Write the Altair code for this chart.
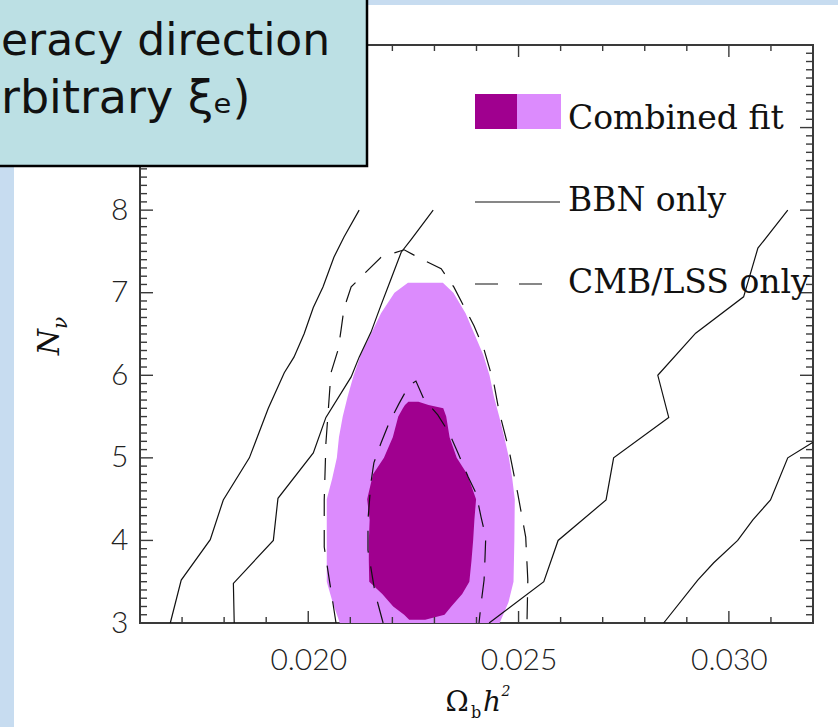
import altair as alt
import pandas as pd

W, H = 673, 578

# ---------------- data ----------------
# Combined fit, 95% region (light): N levels with left / right Omega_b h^2 bounds
light_n = [3.0, 3.25, 3.5, 4.0, 4.5, 4.75, 5.0, 5.25, 5.5, 5.75, 6.0, 6.25, 6.5, 6.75, 7.0, 7.12]
light_left = [0.02075, 0.02058, 0.02044, 0.02044, 0.02044, 0.02057, 0.02068, 0.02073,
              0.02082, 0.02094, 0.02108, 0.02125, 0.02149, 0.02173, 0.02205, 0.02237]
light_right = [0.02455, 0.02476, 0.02488, 0.02490, 0.02491, 0.02485, 0.02477, 0.02466,
               0.02454, 0.02441, 0.02431, 0.02416, 0.02395, 0.02374, 0.02345, 0.02320]

# Combined fit, 68% region (dark)
dark_n = [3.04, 3.1, 3.2, 3.35, 3.5, 3.75, 4.0, 4.25, 4.5, 4.8, 5.0, 5.25, 5.5, 5.6, 5.64, 5.68]
dark_left = [0.02240, 0.02228, 0.02202, 0.02176, 0.02145, 0.02144, 0.02144, 0.02146,
             0.02140, 0.02154, 0.02180, 0.02201, 0.02214, 0.02225, 0.02230, 0.02238]
dark_right = [0.02278, 0.02324, 0.02340, 0.02366, 0.02383, 0.02388, 0.02392, 0.02395,
              0.02399, 0.02378, 0.02353, 0.02336, 0.02328, 0.02321, 0.02286, 0.02262]

# BBN only contours (solid)
bbn95_left_x = [0.01672, 0.01698, 0.01767, 0.01798, 0.01860, 0.01905, 0.01943, 0.01966,
                0.01990, 0.02012, 0.02035, 0.02061, 0.02085, 0.02121]
bbn95_left_y = [3.0, 3.52, 4.01, 4.49, 5.0, 5.60, 6.03, 6.22, 6.50, 6.82, 7.07, 7.43, 7.675, 8.0]

bbn68_left_x = [0.01824, 0.01822, 0.01917, 0.01928, 0.02012, 0.02042, 0.02102, 0.02121,
                0.02149, 0.02173, 0.02197, 0.02221, 0.02244, 0.02297]
bbn68_left_y = [3.0, 3.48, 4.0, 4.51, 5.06, 5.49, 5.98, 6.22, 6.52, 6.85, 7.17, 7.49, 7.64, 8.0]

bbn68_right_x = [0.02430, 0.02560, 0.02594, 0.02708, 0.02726, 0.02857, 0.02831, 0.02921,
                 0.03035, 0.03069, 0.03140]
bbn68_right_y = [3.0, 3.50, 4.0, 4.49, 5.0, 5.49, 6.0, 6.51, 6.95, 7.54, 8.0]

bbn95_right_x = [0.02845, 0.02926, 0.02964, 0.03021, 0.03057, 0.03099, 0.03140, 0.03200]
bbn95_right_y = [3.0, 3.52, 3.73, 4.0, 4.25, 4.49, 5.0, 5.19]

# CMB/LSS only contours (dashed)
cmb95_x = [0.02066, 0.02038, 0.02038, 0.02042, 0.02054, 0.02071, 0.02078, 0.02085, 0.02102,
           0.02137, 0.02173, 0.02228, 0.02268, 0.02316, 0.02346, 0.02394, 0.02418, 0.02441,
           0.02453, 0.02477, 0.02498, 0.02517, 0.02522, 0.02520]
cmb95_y = [3.0, 3.92, 4.49, 5.18, 6.03, 6.31, 6.55, 6.81, 7.07, 7.25, 7.43, 7.52, 7.41, 7.29,
           7.07, 6.60, 6.31, 5.91, 5.58, 5.10, 4.57, 4.04, 3.52, 3.0]

cmb68_x = [0.02178, 0.02159, 0.02142, 0.02142, 0.02149, 0.02156, 0.02173, 0.02192, 0.02216,
           0.02240, 0.02256, 0.02275, 0.02308, 0.02335, 0.02356, 0.02380, 0.02399, 0.02411,
           0.02422, 0.02420, 0.02418, 0.02411, 0.02406]
cmb68_y = [3.0, 3.36, 3.88, 4.25, 4.70, 4.94, 5.18, 5.42, 5.66, 5.88, 5.93, 5.71, 5.52, 5.30,
           5.06, 4.77, 4.57, 4.28, 4.04, 3.76, 3.52, 3.24, 3.0]

# axis ticks / labels
x_label_values = [0.020, 0.025, 0.030]
y_label_values = [3, 4, 5, 6, 7, 8]
x_major_ticks = [0.020, 0.025, 0.030]
x_minor_ticks = [0.017, 0.018, 0.019, 0.021, 0.022, 0.023, 0.024,
                 0.026, 0.027, 0.028, 0.029, 0.031]
y_major_ticks = [4, 5, 6, 7, 8, 9]
y_minor_ticks = [round(3 + 0.1 * i, 1) for i in range(1, 70) if i % 10]

# ---------------- helpers ----------------
XS = alt.Scale(domain=[0.016, 0.032], nice=False, zero=False)
YS = alt.Scale(domain=[3, 10], nice=False, zero=False)
TICKFONT = "Lato"
XAX = alt.Axis(values=x_label_values, format=".3f", ticks=False, domain=False, grid=False,
               labelFont=TICKFONT, labelFontSize=30, labelFontWeight=300, labelColor="#222222",
               labelPadding=22, labelFlush=False, title=None)
YAX = alt.Axis(values=y_label_values, format="d", ticks=False, domain=False, grid=False,
               labelFont=TICKFONT, labelFontSize=30, labelFontWeight=300, labelColor="#222222",
               labelPadding=12, labelFlush=False, title=None)


def X(field, **kw):
    return alt.X(field, type="quantitative", scale=XS, axis=XAX, **kw)


def Y(field, **kw):
    return alt.Y(field, type="quantitative", scale=YS, axis=YAX, **kw)


one = pd.DataFrame({"k": [0]})

light_df = pd.DataFrame({"n": light_n, "xl": light_left, "xr": light_right})
dark_df = pd.DataFrame({"n": dark_n, "xl": dark_left, "xr": dark_right})


def line_df(xs, ys, name):
    return pd.DataFrame({"x": xs, "y": ys, "id": name, "i": range(len(xs))})


solid_df = pd.concat([
    line_df(bbn95_left_x, bbn95_left_y, "a"),
    line_df(bbn68_left_x, bbn68_left_y, "b"),
    line_df(bbn68_right_x, bbn68_right_y, "c"),
    line_df(bbn95_right_x, bbn95_right_y, "d"),
])
dashed_df = pd.concat([
    line_df(cmb95_x, cmb95_y, "e"),
    line_df(cmb68_x, cmb68_y, "f"),
])

DARK = "#A0008F"
LIGHT = "#DC8BFD"

layers = []

# slide background strips
bg = "#C7DCF0"
layers.append(alt.Chart(one).mark_rect(color=bg).encode(
    x=alt.value(-140), x2=alt.value(-126), y=alt.value(-45), y2=alt.value(H + 104)))
layers.append(alt.Chart(one).mark_rect(color=bg).encode(
    x=alt.value(-140), x2=alt.value(W + 25), y=alt.value(-45), y2=alt.value(-40)))

# filled regions (horizontal areas: left/right bound at each N)
layers.append(alt.Chart(light_df).mark_area(orient="horizontal", color=LIGHT, opacity=1).encode(
    y=Y("n"), x=X("xl", stack=None), x2=alt.X2("xr")))
layers.append(alt.Chart(dark_df).mark_area(orient="horizontal", color=DARK, opacity=1).encode(
    y=Y("n"), x=X("xl", stack=None), x2=alt.X2("xr")))

# contours
layers.append(alt.Chart(solid_df).mark_line(color="#111111", strokeWidth=1.2).encode(
    x=X("x"), y=Y("y"), detail="id:N", order=alt.Order("i:Q")))
layers.append(alt.Chart(dashed_df).mark_line(color="#111111", strokeWidth=1.2,
                                             strokeDash=[22, 14]).encode(
    x=X("x"), y=Y("y"), detail="id:N", order=alt.Order("i:Q")))

# inward ticks on all four sides
TC = "#3a3a3a"
xmaj = pd.DataFrame({"v": x_major_ticks})
xmin = pd.DataFrame({"v": x_minor_ticks})
ymaj = pd.DataFrame({"v": y_major_ticks})
ymin = pd.DataFrame({"v": y_minor_ticks})
for df, ln in ((xmaj, 12), (xmin, 6)):
    layers.append(alt.Chart(df).mark_rule(color=TC, strokeWidth=1.4).encode(
        x=X("v"), y=alt.value(H), y2=alt.value(H - ln)))
    layers.append(alt.Chart(df).mark_rule(color=TC, strokeWidth=1.4).encode(
        x=X("v"), y=alt.value(0), y2=alt.value(ln)))
for df, ln in ((ymaj, 13), (ymin, 7)):
    layers.append(alt.Chart(df).mark_rule(color=TC, strokeWidth=1.4).encode(
        y=Y("v"), x=alt.value(0), x2=alt.value(ln)))
    layers.append(alt.Chart(df).mark_rule(color=TC, strokeWidth=1.4).encode(
        y=Y("v"), x=alt.value(W), x2=alt.value(W - ln)))

# legend
LF = "DejaVu Serif"
layers.append(alt.Chart(one).mark_rect(color=DARK).encode(
    x=alt.value(335), x2=alt.value(377), y=alt.value(49), y2=alt.value(84)))
layers.append(alt.Chart(one).mark_rect(color=LIGHT).encode(
    x=alt.value(377), x2=alt.value(421), y=alt.value(49), y2=alt.value(84)))
layers.append(alt.Chart(one).mark_rule(color="#111111", strokeWidth=1.2).encode(
    x=alt.value(335), x2=alt.value(420), y=alt.value(157)))
layers.append(alt.Chart(one).mark_rule(color="#111111", strokeWidth=1.2, strokeDash=[23, 21]).encode(
    x=alt.value(335), x2=alt.value(402), y=alt.value(239)))
for txt, yy in (("Combined fit", 84), ("BBN only", 166), ("CMB/LSS only", 248)):
    layers.append(alt.Chart(one).mark_text(text=txt, align="left", baseline="alphabetic",
                                           font=LF, fontSize=33, color="#111111").encode(
        x=alt.value(428), y=alt.value(yy)))

# axis titles
layers.append(alt.Chart(one).mark_text(text="N", font="DejaVu Serif", fontStyle="italic",
                                       fontSize=30, angle=270, align="center",
                                       baseline="middle", color="#111111").encode(
    x=alt.value(-90), y=alt.value(297)))
layers.append(alt.Chart(one).mark_text(text="ν", font="DejaVu Serif", fontStyle="italic",
                                       fontSize=20, angle=270, align="center",
                                       baseline="middle", color="#111111").encode(
    x=alt.value(-79), y=alt.value(278)))
layers.append(alt.Chart(one).mark_text(text="Ω", font="DejaVu Serif", fontSize=28,
                                       align="center", baseline="alphabetic",
                                       color="#111111").encode(
    x=alt.value(317), y=alt.value(666)))
layers.append(alt.Chart(one).mark_text(text="b", font="DejaVu Serif", fontSize=16,
                                       align="center", baseline="alphabetic",
                                       color="#111111").encode(
    x=alt.value(336), y=alt.value(673)))
layers.append(alt.Chart(one).mark_text(text="h", font="DejaVu Serif", fontStyle="italic",
                                       fontSize=28, align="center", baseline="alphabetic",
                                       color="#111111").encode(
    x=alt.value(352), y=alt.value(666)))
layers.append(alt.Chart(one).mark_text(text="2", font="DejaVu Serif", fontStyle="italic",
                                       fontSize=14, align="center", baseline="alphabetic",
                                       color="#111111").encode(
    x=alt.value(366), y=alt.value(651)))

# slide text box
layers.append(alt.Chart(one).mark_rect(fill="#BCE0E4", stroke="#000000", strokeWidth=2.5).encode(
    x=alt.value(-170), x2=alt.value(227), y=alt.value(-70), y2=alt.value(121)))
layers.append(alt.Chart(one).mark_text(text="eracy direction", align="left", baseline="alphabetic",
                                       font="DejaVu Sans", fontSize=44, color="#111111").encode(
    x=alt.value(-139), y=alt.value(10)))
layers.append(alt.Chart(one).mark_text(text="rbitrary ξₑ)", align="left", baseline="alphabetic",
                                       font="DejaVu Sans", fontSize=46, color="#111111").encode(
    x=alt.value(-139), y=alt.value(68)))

chart = alt.layer(*layers).properties(
    width=W, height=H,
    padding={"left": 140, "top": 45, "right": 25, "bottom": 104},
    autosize=alt.AutoSizeParams(type="none"),
    background="white",
).configure_view(stroke="#3a3a3a", strokeWidth=2)

chart.save("out.html", embed_options={"renderer": "svg", "actions": False})
